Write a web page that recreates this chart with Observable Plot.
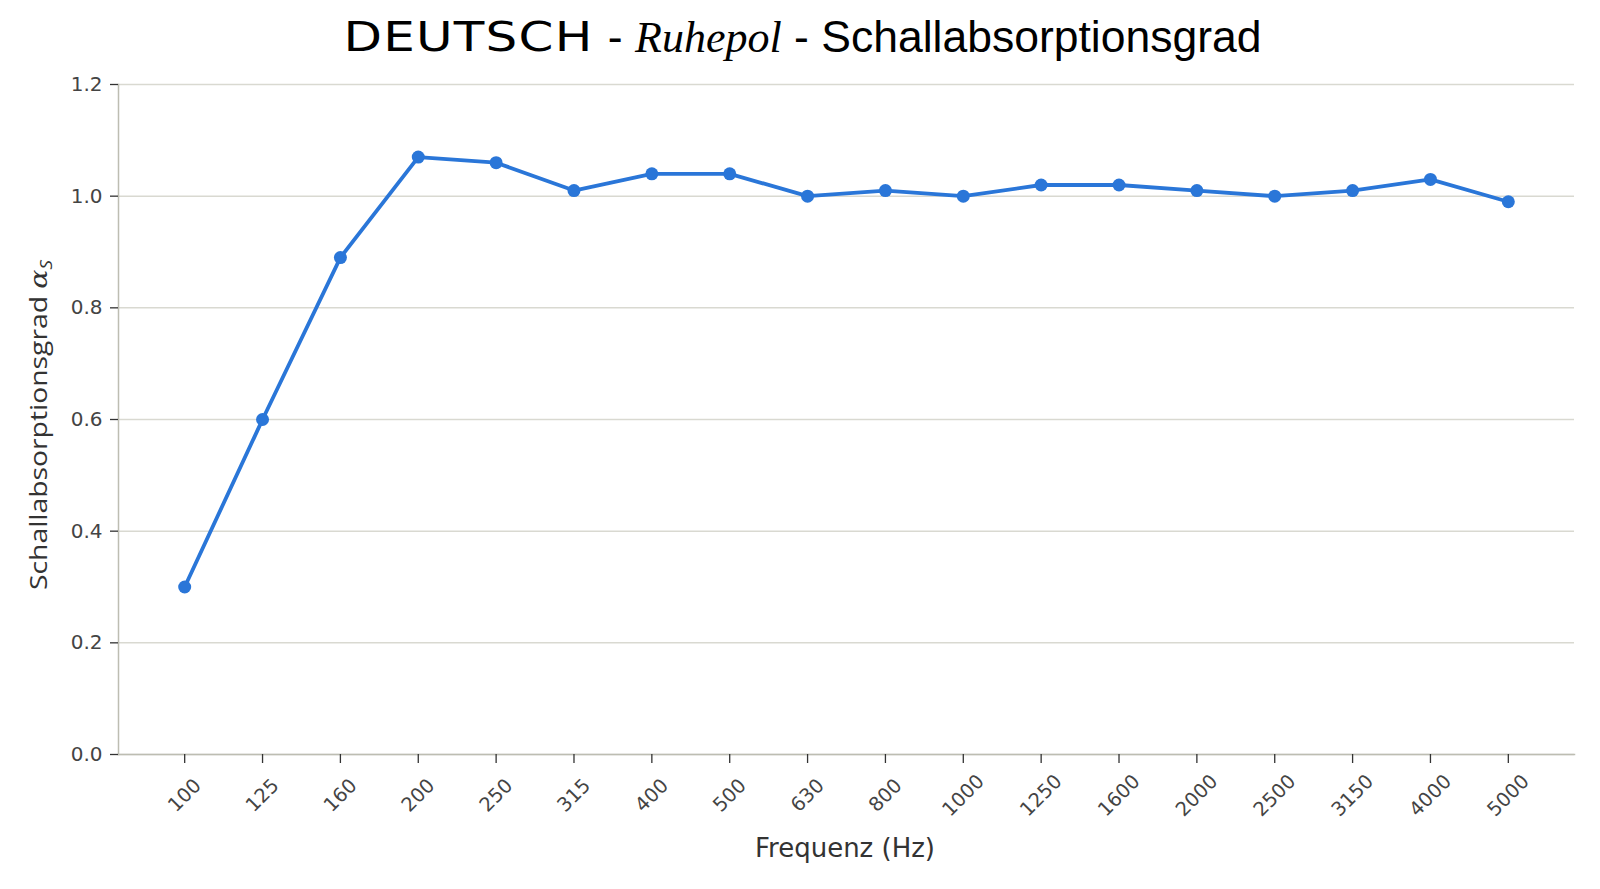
<!DOCTYPE html>
<html>
<head>
<meta charset="utf-8">
<script src="https://cdn.jsdelivr.net/npm/d3@7"></script>
<script src="https://cdn.jsdelivr.net/npm/@observablehq/plot@0.6"></script>
<style>
  html, body { margin: 0; padding: 0; background: #fff; overflow: hidden; width: 1600px; height: 889px; }
  #title { height: 72px; width: 1600px; display: flex; align-items: center; justify-content: center; padding-left: 2px; padding-top: 2px; box-sizing: border-box; white-space: pre; color: #000; }
  .t1 { font-family: "DejaVu Sans"; font-weight: 400; font-size: 41px; display: inline-block; transform: scaleX(1.22); margin-left: 26px; margin-right: 24px; letter-spacing: 1px; }
  .t2 { font-family: "Liberation Serif"; font-style: italic; font-size: 44px; }
  .t3 { font-family: "Liberation Sans", Arial; font-size: 44.5px; }
  #chart svg { display: block; max-width: none; }
</style>
</head>
<body>
<div id="title"><span class="t1">DEUTSCH</span><span class="t3"> - </span><span class="t2">Ruhepol</span><span class="t3"> - Schallabsorptionsgrad</span></div>
<div id="chart"></div>
<script>
const frequencies = ["100","125","160","200","250","315","400","500","630","800","1000","1250","1600","2000","2500","3150","4000","5000"];
const alphaS = [0.30,0.60,0.89,1.07,1.06,1.01,1.04,1.04,1.00,1.01,1.00,1.02,1.02,1.01,1.00,1.01,1.03,0.99];
const yTicks = [0,0.2,0.4,0.6,0.8,1.0,1.2];
const xLabel = "Frequenz (Hz)";
const yLabel = "Schallabsorptionsgrad ";

const data = frequencies.map((f, i) => ({f, a: alphaS[i]}));
const lineColor = "#2a76d8";

const plot = Plot.plot({
  width: 1600,
  height: 817,
  marginTop: 12,
  marginBottom: 135,
  marginLeft: 118,
  marginRight: 26,
  style: {fontFamily: "DejaVu Sans", fontSize: "20px", color: "#444", background: "#fff", maxWidth: "none"},
  x: {type: "point", domain: frequencies, padding: 0.85, round: false, label: null},
  y: {domain: [0, 1.2], label: null},
  marks: [
    Plot.gridY(yTicks, {stroke: "#d9d9d1", strokeOpacity: 1, strokeWidth: 1.5}),
    Plot.frame({anchor: "left", stroke: "#bdbdb2", strokeWidth: 1.5}),
    Plot.frame({anchor: "bottom", stroke: "#bdbdb2", strokeWidth: 1.5}),
    Plot.axisY(yTicks, {tickFormat: d => d.toFixed(1), tickSize: 8, tickPadding: 8, stroke: "#333", strokeWidth: 1.3, fill: "#444", fontSize: 20, label: null}),
    Plot.axisX({tickSize: 9, tickFormat: () => "", stroke: "#333", strokeWidth: 1.3, label: null}),
    Plot.text(frequencies, {x: d => d, text: d => d, frameAnchor: "bottom", dy: 41, rotate: -45, textAnchor: "middle", lineAnchor: "middle", fill: "#444", fontSize: 19.5}),
    Plot.line(data, {x: "f", y: "a", stroke: lineColor, strokeWidth: 3.8}),
    Plot.dot(data, {x: "f", y: "a", fill: lineColor, r: 6.5})
  ]
});
document.getElementById("chart").appendChild(plot);

const svg = d3.select(plot);
svg.append("text")
  .attr("x", 845).attr("y", 785)
  .attr("text-anchor", "middle")
  .attr("font-family", "DejaVu Sans")
  .attr("font-size", 26)
  .attr("fill", "#333")
  .text(xLabel);

const yl = svg.append("text")
  .attr("transform", "translate(47,353) rotate(-90) scale(1.18,1)")
  .attr("text-anchor", "middle")
  .attr("font-family", "Open Sans")
  .attr("font-size", 24)
  .attr("fill", "#333");
yl.append("tspan").text(yLabel);
yl.append("tspan").attr("font-style", "italic").attr("font-family", "DejaVu Serif").text("α");
yl.append("tspan").attr("font-style", "italic").attr("font-size", 16).attr("dy", 5).text("S");
</script>
</body>
</html>
